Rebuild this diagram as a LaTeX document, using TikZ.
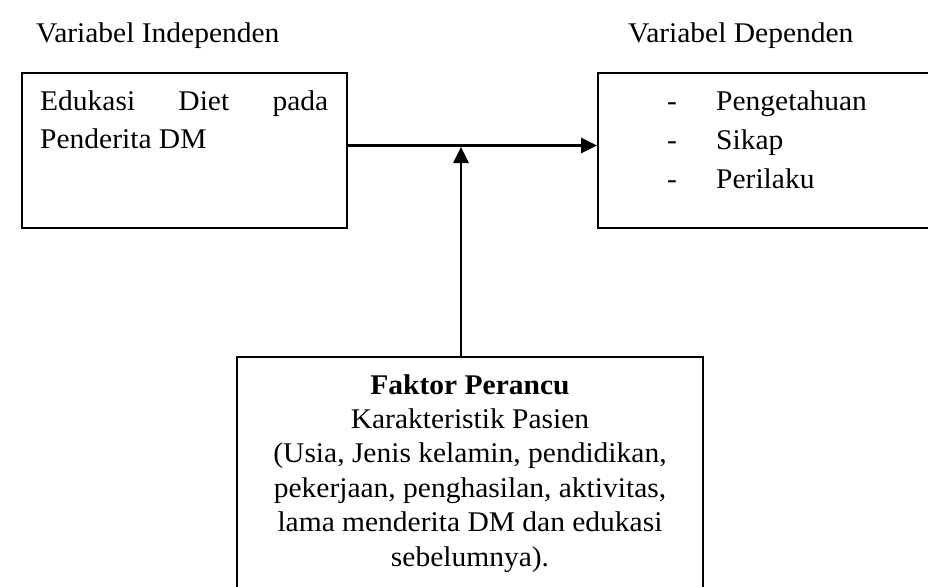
\documentclass[tikz,border=0pt]{standalone}
\usepackage{fontspec}
\setmainfont{Liberation Serif}[FakeStretch=1.035]
\usetikzlibrary{arrows.meta}
\begin{document}
\begin{tikzpicture}[x=1pt,y=-1pt,
  box/.style={draw, line width=2pt, inner sep=0pt},
  txt/.style={inner sep=0pt, font=\fontsize{28.5}{34}\selectfont},
  arr/.style={line width=2.7pt, -{Triangle[length=16pt,width=15pt]}}]
\useasboundingbox (0,0) rectangle (928,586);
% boxes
\node[box, minimum width=325pt, minimum height=155pt] (ind) at (184.5,150.5) {};
\node[box, minimum width=345pt, minimum height=155pt] (dep) at (770.5,150.5) {};
\node[box, minimum width=466pt, minimum height=260pt] (konf) at (470,487) {};
% headings
\node[txt, anchor=base west] (h1) at (36,42) {Variabel Independen};
\node[txt, anchor=base west] (h2) at (628,42) {Variabel Dependen};
% independent box text
\node[txt, anchor=base west] (t1) at (40,110) {\makebox[288pt][s]{Edukasi Diet pada}};
\node[txt, anchor=base west] (t2) at (40,148) {Penderita DM};
% dependent box text
\node[txt, anchor=base west] (d1) at (667,110) {-};
\node[txt, anchor=base west] (d2) at (667,149) {-};
\node[txt, anchor=base west] (d3) at (667,188) {-};
\node[txt, anchor=base west] (p1) at (716,110) {Pengetahuan};
\node[txt, anchor=base west] (p2) at (716,149) {Sikap};
\node[txt, anchor=base west] (p3) at (716,188) {Perilaku};
% confounder text
\node[txt, anchor=base] (k1) at (470,394) {\bfseries Faktor Perancu};
\node[txt, anchor=base] (k2) at (470,428.4) {Karakteristik Pasien};
\node[txt, anchor=base] (k3) at (470,462.8) {(Usia, Jenis kelamin, pendidikan,};
\node[txt, anchor=base] (k4) at (470,497.2) {pekerjaan, penghasilan, aktivitas,};
\node[txt, anchor=base] (k5) at (470,531.6) {lama menderita DM dan edukasi};
\node[txt, anchor=base] (k6) at (470,566) {sebelumnya).};
% connectors
\coordinate (mid) at (461,145.5);
\coordinate (midb) at (461,147);
\draw[arr] (ind.east |- mid) -- (dep.west |- mid);
\draw[arr] (konf.north -| midb) -- (midb);
\end{tikzpicture}
\end{document}
